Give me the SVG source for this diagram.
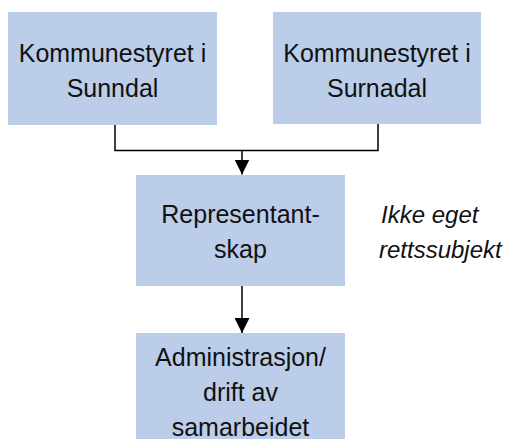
<svg xmlns="http://www.w3.org/2000/svg" width="508" height="439" viewBox="0 0 508 439">
<style>
.box{fill:#BBCDE9;}
.t{font-family:"Liberation Sans",Arial,sans-serif;font-size:25px;fill:#111;text-anchor:middle;}
.i{font-family:"Liberation Sans",Arial,sans-serif;font-size:24px;fill:#111;font-style:italic;}
.c{fill:none;stroke:#000;stroke-width:1.5;}
</style>
<defs>
<marker id="ah" markerWidth="15" markerHeight="15" refX="15" refY="7.5" orient="auto" markerUnits="userSpaceOnUse" viewBox="0 0 15 15">
<path d="M0,0 L15,7.5 L0,15 Z" fill="#000"/>
</marker>
</defs>
<rect width="508" height="439" fill="#fff"/>
<g id="connectors">
<polyline class="c" points="115,125 115,150.5 378,150.5 378,124"/>
<line class="c" x1="242" y1="150.5" x2="242" y2="174.5" marker-end="url(#ah)"/>
<line class="c" x1="242" y1="286" x2="242" y2="333" marker-end="url(#ah)"/>
</g>
<g id="node-sunndal">
<rect class="box" x="8" y="12" width="209" height="113"/>
<text class="t" x="112.5" y="62">Kommunestyret i</text>
<text class="t" x="112.5" y="97">Sunndal</text>
</g>
<g id="node-surnadal">
<rect class="box" x="273" y="12" width="208" height="112"/>
<text class="t" x="377" y="62">Kommunestyret i</text>
<text class="t" x="377" y="97">Surnadal</text>
</g>
<g id="node-representantskap">
<rect class="box" x="136" y="175" width="209" height="111"/>
<text class="t" x="240.5" y="223">Representant-</text>
<text class="t" x="240.5" y="258">skap</text>
</g>
<g id="note">
<text class="i" x="381" y="223">Ikke eget</text>
<text class="i" x="379" y="258">rettssubjekt</text>
</g>
<g id="node-administrasjon">
<rect class="box" x="136" y="333" width="209" height="106"/>
<text class="t" x="240.5" y="366">Administrasjon/</text>
<text class="t" x="240.5" y="401">drift av</text>
<text class="t" x="240.5" y="436">samarbeidet</text>
</g>
</svg>
